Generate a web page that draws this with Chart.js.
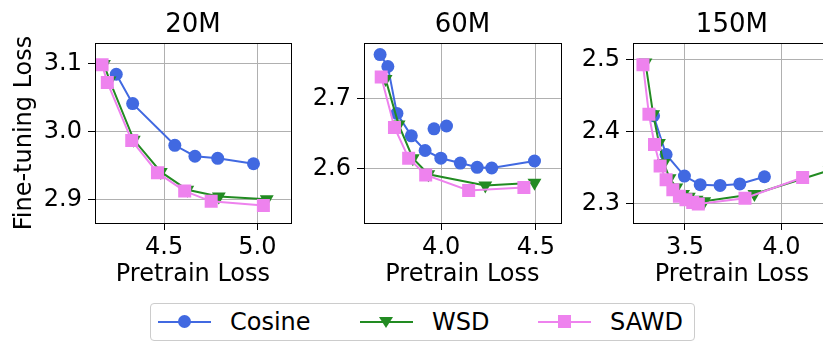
<!DOCTYPE html>
<html>
<head>
<meta charset="utf-8">
<script src="https://cdn.jsdelivr.net/npm/chart.js@4.4.1/dist/chart.umd.min.js"></script>
<style>
  html, body { margin: 0; padding: 0; background: #fff; overflow: hidden; width: 823px; height: 343px; position: relative; }
  canvas { position: absolute; top: 0; }
  #legend { position: absolute; left: 150px; top: 303px; width: 545px; height: 38px; border: 1px solid #cccccc; border-radius: 4px;
            font-family: 'DejaVu Sans', sans-serif; font-size: 24px; color: #000; box-sizing: border-box; }
  .item { position: absolute; top: 0; height: 36px; }
  .line { position: absolute; top: 17px; height: 2px; width: 53px; }
  .text { position: absolute; top: 3px; line-height: 30px; white-space: nowrap; }
  .dot { position: absolute; left: 20px; top: -6px; width: 13px; height: 13px; border-radius: 50%; background: #4169e1; }
  .tri { position: absolute; left: 19px; top: -4px; width: 0; height: 0; border-left: 7px solid transparent; border-right: 7px solid transparent; border-top: 11px solid #228b22; }
  .sq { position: absolute; left: 20px; top: -6px; width: 13px; height: 13px; background: #ee82ee; }
</style>
</head>
<body>
<canvas id="c20m" width="300" height="300" style="left:0px"></canvas>
<canvas id="c60m" width="270" height="300" style="left:300px"></canvas>
<canvas id="c150m" width="270" height="300" style="left:570px"></canvas>
<div id="legend">
  <div class="item" style="left:7px"><div class="line" style="background:#4169e1"><div class="dot"></div></div><div class="text" style="left:72px">Cosine</div></div>
  <div class="item" style="left:209px"><div class="line" style="background:#228b22"><div class="tri"></div></div><div class="text" style="left:72px">WSD</div></div>
  <div class="item" style="left:387px"><div class="line" style="background:#ee82ee"><div class="sq"></div></div><div class="text" style="left:72px">SAWD</div></div>
</div>
<script>
'use strict';

// 20M model
const cosine20mX = [4.243, 4.331, 4.557, 4.665, 4.787, 4.979];
const cosine20mY = [3.084, 3.041, 2.980, 2.964, 2.961, 2.953];
const wsd20mX = [4.177, 4.207, 4.337, 4.482, 4.624, 4.793, 5.050];
const wsd20mY = [3.099, 3.075, 2.988, 2.941, 2.915, 2.905, 2.901];
const sawd20mX = [4.167, 4.195, 4.326, 4.464, 4.610, 4.752, 5.032];
const sawd20mY = [3.098, 3.072, 2.987, 2.940, 2.913, 2.898, 2.892];

// 60M model (two cosine runs sit off the curve)
const cosine60mX = [3.677, 3.718, 3.766, 3.842, 3.915, 3.998, 4.101, 4.190, 4.267, 4.493];
const cosine60mY = [2.763, 2.746, 2.679, 2.647, 2.626, 2.615, 2.608, 2.602, 2.601, 2.611];
const cosineOff60mX = [3.962, 4.028];
const cosineOff60mY = [2.657, 2.661];
const wsd60mX = [3.706, 3.775, 3.850, 3.932, 4.233, 4.493];
const wsd60mY = [2.728, 2.663, 2.615, 2.592, 2.576, 2.580];
const sawd60mX = [3.683, 3.753, 3.828, 3.918, 4.145, 4.437];
const sawd60mY = [2.731, 2.659, 2.615, 2.591, 2.569, 2.573];

// 150M model
const cosine150mX = [3.337, 3.402, 3.497, 3.579, 3.682, 3.784, 3.912];
const cosine150mY = [2.422, 2.368, 2.338, 2.326, 2.325, 2.327, 2.337];
const wsd150mX = [3.295, 3.335, 3.365, 3.390, 3.420, 3.455, 3.490, 3.520, 3.560, 3.600, 3.860, 4.250];
const wsd150mY = [2.496, 2.424, 2.384, 2.356, 2.335, 2.322, 2.313, 2.309, 2.305, 2.303, 2.313, 2.346];
const sawd150mX = [3.282, 3.313, 3.342, 3.371, 3.402, 3.437, 3.471, 3.505, 3.540, 3.569, 3.811, 4.110];
const sawd150mY = [2.493, 2.424, 2.382, 2.352, 2.333, 2.319, 2.310, 2.305, 2.301, 2.299, 2.307, 2.336];

// Tick labels
const xTicks20m = [4.5, 5.0];
const yTicks20m = [2.9, 3.0, 3.1];
const xTicks60m = [4.0, 4.5];
const yTicks60m = [2.6, 2.7];
const xTicks150m = [3.5, 4.0];
const yTicks150m = [2.3, 2.4, 2.5];

const FONT = 'DejaVu Sans';
const COLORS = {cosine: '#4169e1', wsd: '#228b22', sawd: '#ee82ee'};

// zip two arrays into {x, y} points
function pts(xs, ys) {
    return xs.map((x, i) => ({x: x, y: ys[i]}));
}

function series(label, xs, ys, style, order, showLine) {
    let s = {
        label: label,
        data: pts(xs, ys),
        borderColor: COLORS[style],
        backgroundColor: COLORS[style],
        borderWidth: 2,
        pointBorderWidth: 0,
        showLine: showLine !== false,
        order: order,
    };
    if (style === 'cosine') {
        s.pointStyle = 'circle';
        s.pointRadius = 6.5;
    } else if (style === 'wsd') {
        s.pointStyle = 'triangle';
        s.pointRotation = 180;
        s.pointRadius = 8;
    } else {
        s.pointStyle = 'rect';
        s.pointRadius = 9.2;
    }
    return s;
}

// top and right spines, like the matplotlib box
const frame = {
    id: 'frame',
    afterDatasetsDraw(chart) {
        const a = chart.chartArea;
        const ctx = chart.ctx;
        ctx.save();
        ctx.strokeStyle = '#000';
        ctx.lineWidth = 1;
        ctx.strokeRect(Math.round(a.left) + 0.5, Math.round(a.top) + 0.5,
            Math.round(a.right - a.left), Math.round(a.bottom - a.top));
        ctx.restore();
    }
};

function makeChart(id, title, datasets, xr, yr, xTicks, yTicks, yWidth, padRight, yTitle) {
    let ctx = document.getElementById(id).getContext('2d');
    return new Chart(ctx, {
        type: 'scatter',
        data: {datasets: datasets},
        plugins: [frame],
        options: {
            responsive: false,
            animation: false,
            devicePixelRatio: 1,
            layout: {padding: {left: 0, right: padRight, top: 0, bottom: 0}},
            plugins: {
                legend: {display: false},
                tooltip: {enabled: false},
                title: {
                    display: true,
                    text: title,
                    fullSize: false,
                    color: '#000',
                    font: {family: FONT, size: 26, weight: 'normal'},
                    padding: {top: 10, bottom: 1.8}
                }
            },
            scales: {
                x: {
                    type: 'linear',
                    min: xr[0], max: xr[1],
                    afterBuildTicks: s => { s.ticks = xTicks.map(v => ({value: v})); },
                    afterFit: s => { s.height = 77; },
                    grid: {color: '#b0b0b0', lineWidth: 1, tickColor: '#000', tickLength: 7},
                    border: {color: '#000', width: 1},
                    ticks: {color: '#000', font: {family: FONT, size: 24}, padding: 3,
                        maxRotation: 0, callback: v => v.toFixed(1)},
                    title: {display: true, text: 'Pretrain Loss', color: '#000',
                        font: {family: FONT, size: 24}, padding: {top: 0, bottom: 11}}
                },
                y: {
                    type: 'linear',
                    min: yr[0], max: yr[1],
                    afterBuildTicks: s => { s.ticks = yTicks.map(v => ({value: v})); },
                    afterFit: s => { s.width = yWidth; },
                    grid: {color: '#b0b0b0', lineWidth: 1, tickColor: '#000', tickLength: 7},
                    border: {color: '#000', width: 1},
                    ticks: {color: '#000', font: {family: FONT, size: 24}, padding: 6,
                        callback: v => v.toFixed(1)},
                    title: {display: !!yTitle, text: yTitle || '', color: '#000',
                        font: {family: FONT, size: 24}, padding: {top: 10, bottom: 0}}
                }
            }
        }
    });
}

makeChart('c20m', '20M', [
    series('Cosine', cosine20mX, cosine20mY, 'cosine', 3),
    series('WSD', wsd20mX, wsd20mY, 'wsd', 2),
    series('SAWD', sawd20mX, sawd20mY, 'sawd', 1),
], [4.129, 5.179], [2.8663, 3.1297], xTicks20m, yTicks20m, 95, 7, 'Fine-tuning Loss');

makeChart('c60m', '60M', [
    series('Cosine', cosineOff60mX, cosineOff60mY, 'cosine', 4, false),
    series('Cosine', cosine60mX, cosine60mY, 'cosine', 3),
    series('WSD', wsd60mX, wsd60mY, 'wsd', 2),
    series('SAWD', sawd60mX, sawd60mY, 'sawd', 1),
], [3.592, 4.632], [2.5224, 2.7796], xTicks60m, yTicks60m, 64, 7, null);

makeChart('c150m', '150M', [
    series('Cosine', cosine150mX, cosine150mY, 'cosine', 3),
    series('WSD', wsd150mX, wsd150mY, 'wsd', 2),
    series('SAWD', sawd150mX, sawd150mY, 'sawd', 1),
], [3.2304, 4.256], [2.2726, 2.5233], xTicks150m, yTicks150m, 63, 8, null);
</script>
</body>
</html>
